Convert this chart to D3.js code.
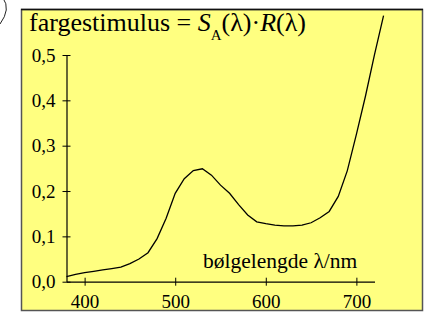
<!DOCTYPE html>
<html>
<head>
<meta charset="utf-8">
<script src="https://cdn.jsdelivr.net/npm/d3@7"></script>
<style>
  body { margin: 0; background: #fff; }
  svg { display: block; }
  text { font-family: 'Liberation Serif', Tinos, 'Times New Roman', serif; fill: #000; }
</style>
</head>
<body>
<svg id="chart" width="424" height="315"></svg>
<script>
// wavelength (nm) and colour stimulus values
var wavelengths = [380, 390, 400, 410, 420, 430, 440, 450, 460, 470, 480, 490, 500, 510, 520, 530, 540, 550,
  560, 570, 580, 590, 600, 610, 620, 630, 640, 650, 660, 670, 680, 690, 700, 710, 720, 730];
var stimulus = [0.011, 0.016, 0.020, 0.023, 0.026, 0.029, 0.032, 0.040, 0.050, 0.064, 0.095, 0.140, 0.195, 0.227,
  0.245, 0.249, 0.235, 0.213, 0.195, 0.170, 0.147, 0.132, 0.128, 0.125, 0.123, 0.123, 0.125, 0.130, 0.141,
  0.155, 0.188, 0.245, 0.325, 0.409, 0.501, 0.587];
var xTicks = [400, 500, 600, 700];
var yTicks = [0, 0.1, 0.2, 0.3, 0.4, 0.5];

var serif = "'Liberation Serif', Tinos, 'Times New Roman', serif";
var svg = d3.select('#chart');

// little bit of a neighbouring figure in the corner
svg.append('path')
  .attr('d', 'M3,-2 Q11,9 0,24')
  .attr('fill', 'none')
  .attr('stroke', '#222')
  .attr('stroke-width', 1);

// yellow panel
svg.append('rect')
  .attr('x', 21.5)
  .attr('y', 9.5)
  .attr('width', 401)
  .attr('height', 301)
  .attr('fill', '#ffff80')
  .attr('stroke', '#555')
  .attr('stroke-width', 1.5);
svg.append('line')
  .attr('x1', 21).attr('x2', 423)
  .attr('y1', 9.5).attr('y2', 9.5)
  .attr('stroke', '#111')
  .attr('stroke-width', 1.5);

var x = d3.scaleLinear().domain([380, 720]).range([66.5, 374.5]);
var y = d3.scaleLinear().domain([0, 0.5]).range([281.7, 55]);

var fmt = function(d) { return d3.format('.1f')(d).replace('.', ','); };

var yAxis = svg.append('g')
  .attr('transform', 'translate(' + x(380) + ',0)')
  .call(d3.axisLeft(y).tickValues(yTicks).tickFormat(fmt).tickSize(4).tickSizeOuter(0).tickPadding(7));

var xAxis = svg.append('g')
  .attr('transform', 'translate(0,' + y(0) + ')')
  .call(d3.axisBottom(x).tickValues(xTicks).tickSize(4).tickSizeOuter(0).tickPadding(9));

[yAxis, xAxis].forEach(function(g) {
  g.attr('font-family', serif).attr('font-size', 19);
  g.select('.domain').attr('stroke', '#000').attr('stroke-width', 1.2);
  g.selectAll('.tick line').attr('stroke', '#000').attr('stroke-width', 1);
});
yAxis.selectAll('.tick line').attr('x1', 4);
xAxis.selectAll('.tick line').attr('y1', -4);

// curve
var line = d3.line()
  .x(function(d, i) { return x(wavelengths[i]); })
  .y(function(d) { return y(d); });

svg.append('path')
  .datum(stimulus)
  .attr('d', line)
  .attr('fill', 'none')
  .attr('stroke', '#000')
  .attr('stroke-width', 1.3);

// title
var title = svg.append('text')
  .attr('x', 29)
  .attr('y', 31)
  .attr('font-family', serif)
  .attr('font-size', '26px');
title.append('tspan').text('fargestimulus = ');
title.append('tspan').attr('font-style', 'italic').text('S');
title.append('tspan').attr('font-size', '15px').attr('dy', 9).text('A');
title.append('tspan').attr('dy', -9).text('(λ)·');
title.append('tspan').attr('font-style', 'italic').text('R');
title.append('tspan').text('(λ)');

// x axis label
svg.append('text')
  .attr('x', 203)
  .attr('y', 268)
  .attr('font-family', serif)
  .attr('font-size', '21.5px')
  .text('bølgelengde λ/nm');
</script>
</body>
</html>
